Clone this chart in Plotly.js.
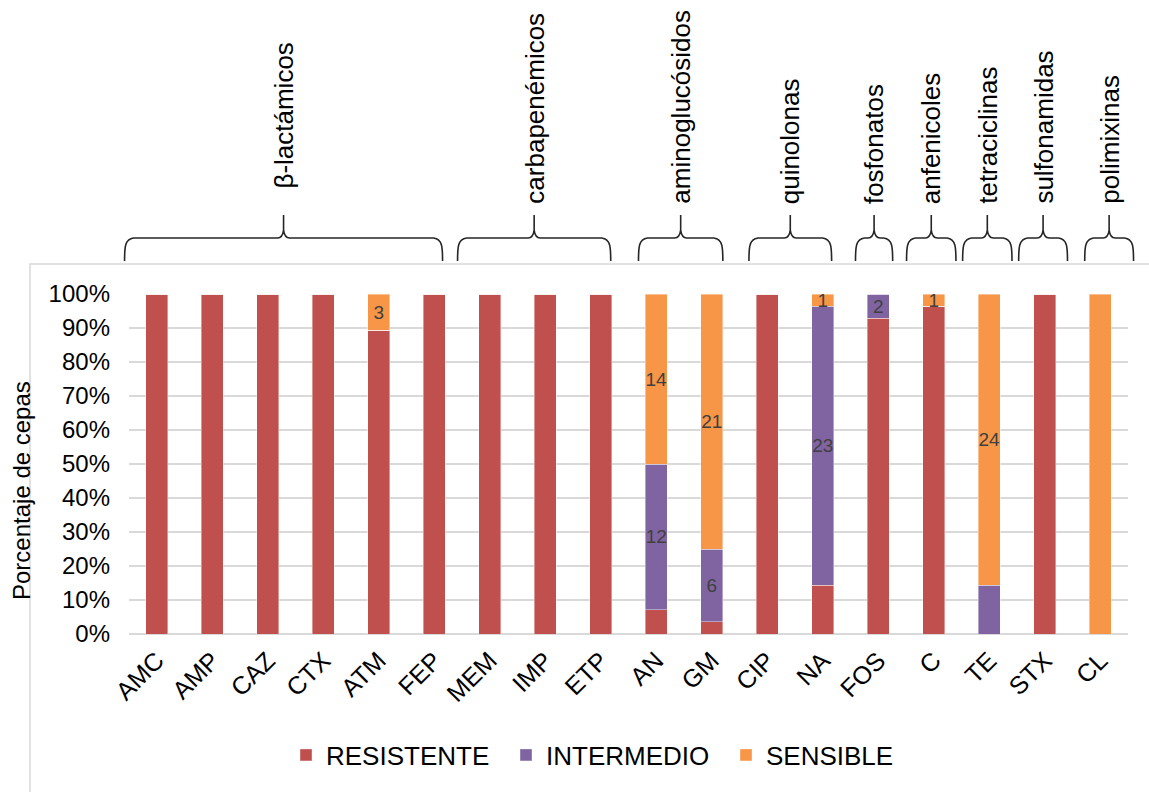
<!DOCTYPE html>
<html>
<head>
<meta charset="utf-8">
<script src="https://cdn.plot.ly/plotly-3.0.1.min.js"></script>
<style>
  html, body { margin: 0; padding: 0; background: #ffffff; }
  #chart { width: 1149px; height: 792px; }
</style>
</head>
<body>
<div id="chart"></div>
<script>
// Antibiotics tested (x axis)
const antibioticos = ['AMC', 'AMP', 'CAZ', 'CTX', 'ATM', 'FEP', 'MEM', 'IMP', 'ETP',
                      'AN', 'GM', 'CIP', 'NA', 'FOS', 'C', 'TE', 'STX', 'CL'];

// Number of strains per susceptibility category (28 strains in total)
const resistente = [28, 28, 28, 28, 25, 28, 28, 28, 28, 2, 1, 28, 4, 26, 27, 0, 28, 0];
const intermedio = [0, 0, 0, 0, 0, 0, 0, 0, 0, 12, 6, 0, 23, 2, 0, 4, 0, 0];
const sensible   = [0, 0, 0, 0, 3, 0, 0, 0, 0, 14, 21, 0, 1, 0, 1, 24, 0, 28];

// Segments whose count is not printed on the bar
const sinEtiquetaIntermedio = ['TE'];
const sinEtiquetaSensible = ['CL'];

// Antibiotic families shown above the bars
const familias = ['β-lactámicos', 'carbapenémicos', 'aminoglucósidos', 'quinolonas',
                  'fosfonatos', 'anfenicoles', 'tetraciclinas', 'sulfonamidas', 'polimixinas'];

// ---- layout geometry ----
const W = 1149, H = 792;
const M = { l: 129, r: 21, t: 294, b: 158 };
const plotW = W - M.l - M.r;
const plotH = H - M.t - M.b;
const catW = plotW / antibioticos.length;

// brace extents in category units (left, right)
const braceSpans = [[-0.58, 5.15], [5.42, 8.18], [8.68, 10.20], [10.67, 12.16],
                    [12.59, 13.26], [13.51, 14.40], [14.52, 15.41], [15.53, 16.41], [16.72, 17.60]];

const catToPx = c => M.l + (c + 0.5) * catW;
const pxToPaperX = p => (p - M.l) / plotW;
const pxToPaperY = p => (H - M.b - p) / plotH;

const FONT = 'Liberation Sans, Arial, sans-serif';
const COLORS = { res: '#C0504D', int: '#8064A2', sen: '#F79646' };
const labelText = (arr, skip) =>
  arr.map((v, i) => (v > 0 && skip.indexOf(antibioticos[i]) < 0 ? String(v) : ''));

const commonBar = {
  type: 'bar',
  x: antibioticos,
  textposition: 'inside',
  insidetextanchor: 'middle',
  textangle: 0,
  constraintext: 'none',
  insidetextfont: { family: FONT, size: 19, color: '#404040' },
  hoverinfo: 'x+y+name'
};
const barLine = { color: 'rgba(255,255,255,0.5)', width: 0.8 };

const traces = [
  Object.assign({}, commonBar, {
    name: 'RESISTENTE', y: resistente,
    marker: { color: COLORS.res, line: barLine }
  }),
  Object.assign({}, commonBar, {
    name: 'INTERMEDIO', y: intermedio, text: labelText(intermedio, sinEtiquetaIntermedio),
    marker: { color: COLORS.int, line: barLine }
  }),
  Object.assign({}, commonBar, {
    name: 'SENSIBLE', y: sensible, text: labelText(sensible, sinEtiquetaSensible),
    marker: { color: COLORS.sen, line: barLine }
  })
];

// curly brace path (pixel space converted to paper units)
function bracePath(c0, c1) {
  const L = catToPx(c0), R = catToPx(c1), T = (L + R) / 2;
  const yb = 261, yh = 238, yt = 215;
  const P = (x, y) => pxToPaperX(x).toFixed(5) + ',' + pxToPaperY(y).toFixed(5);
  return 'M' + P(L, yb) +
         ' C' + P(L, yh + 10) + ' ' + P(L, yh + 1) + ' ' + P(L + 9, yh) +
         ' L' + P(T - 6, yh) +
         ' Q' + P(T - 1, yh) + ' ' + P(T, yh - 8) +
         ' L' + P(T, yt) +
         ' M' + P(T, yh - 8) +
         ' Q' + P(T + 1, yh) + ' ' + P(T + 6, yh) +
         ' L' + P(R - 9, yh) +
         ' C' + P(R, yh + 1) + ' ' + P(R, yh + 10) + ' ' + P(R, yb);
}

const shapes = [
  // chart frame
  {
    type: 'rect', xref: 'paper', yref: 'paper', layer: 'below',
    x0: pxToPaperX(30), x1: pxToPaperX(W + 20),
    y0: pxToPaperY(H + 20), y1: pxToPaperY(264),
    line: { color: '#d9d9d9', width: 1.5 }, fillcolor: 'rgba(0,0,0,0)'
  }
].concat(braceSpans.map(s => ({
  type: 'path', xref: 'paper', yref: 'paper',
  path: bracePath(s[0], s[1]),
  line: { color: '#262626', width: 1.6 }, fillcolor: 'rgba(0,0,0,0)'
})));

const annotations = familias.map((f, i) => ({
  text: f, xref: 'paper', yref: 'paper',
  x: pxToPaperX(catToPx((braceSpans[i][0] + braceSpans[i][1]) / 2)),
  y: pxToPaperY(i === 0 ? 191 : 206),
  xanchor: 'center', yanchor: 'bottom',
  textangle: -90, showarrow: false,
  font: { family: FONT, size: 26, color: '#000000' }
}));

// y axis title
annotations.push({
  text: 'Porcentaje de cepas', xref: 'paper', yref: 'paper',
  x: pxToPaperX(21), y: pxToPaperY(491),
  xanchor: 'center', yanchor: 'middle',
  textangle: -90, showarrow: false,
  font: { family: FONT, size: 24, color: '#000000' }
});

const layout = {
  width: W, height: H,
  margin: M,
  paper_bgcolor: '#ffffff', plot_bgcolor: '#ffffff',
  barmode: 'stack', barnorm: 'percent', bargap: 0.6,
  font: { family: FONT, color: '#000000' },
  xaxis: {
    type: 'category', range: [-0.5, antibioticos.length - 0.5],
    tickangle: -45, ticks: '', showline: false, showgrid: false, zeroline: false,
    tickfont: { size: 25, color: '#000000' }, ticklabelstandoff: 6,
    fixedrange: true
  },
  yaxis: {
    range: [0, 100], dtick: 10, ticksuffix: '%',
    showgrid: true, gridcolor: '#d9d9d9', gridwidth: 1.5,
    zeroline: true, zerolinecolor: '#d9d9d9', zerolinewidth: 1.5,
    showline: false, ticks: '', ticklabelstandoff: 18,
    tickfont: { size: 24, color: '#000000' },
    fixedrange: true
  },
  legend: {
    orientation: 'h', traceorder: 'normal',
    entrywidth: 175, entrywidthmode: 'pixels',
    x: pxToPaperX(286), xanchor: 'left',
    y: pxToPaperY(755), yanchor: 'middle',
    font: { size: 26, color: '#000000' },
    bgcolor: 'rgba(0,0,0,0)'
  },
  showlegend: true,
  shapes: shapes,
  annotations: annotations
};

Plotly.newPlot('chart', traces, layout, { displayModeBar: false, staticPlot: true });
</script>
</body>
</html>
